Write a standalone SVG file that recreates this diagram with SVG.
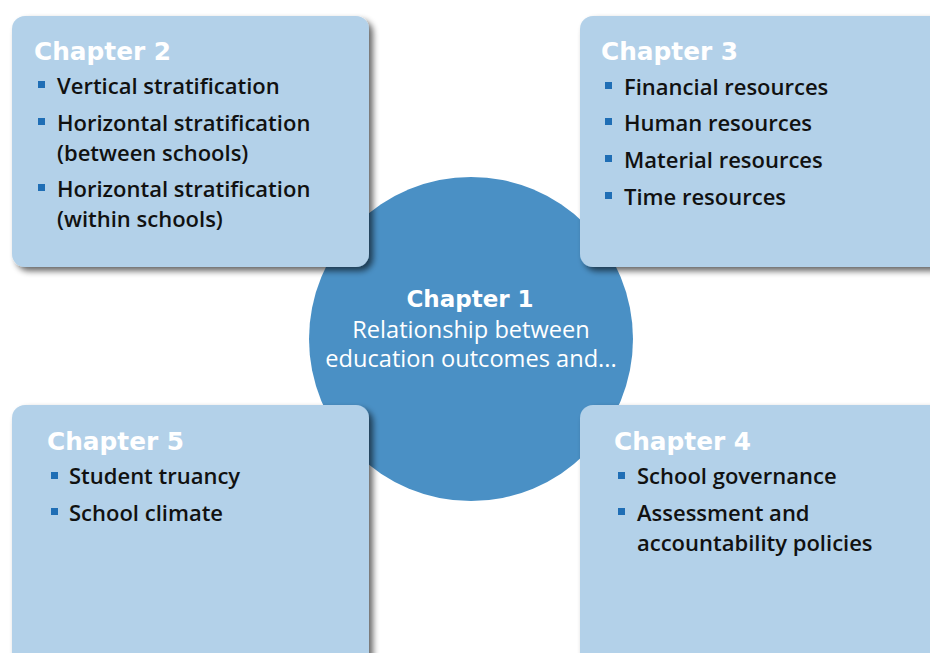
<svg xmlns="http://www.w3.org/2000/svg" width="930" height="653" viewBox="0 0 930 653">
<defs>
<filter id="sh" x="-10%" y="-10%" width="125%" height="125%">
<feGaussianBlur in="SourceAlpha" stdDeviation="3"/>
<feOffset dx="4" dy="4" result="b"/>
<feComponentTransfer><feFuncA type="linear" slope="0.6"/></feComponentTransfer>
<feMerge><feMergeNode/><feMergeNode in="SourceGraphic"/></feMerge>
</filter>
<style>
.box{fill:#b3d1e9;filter:url(#sh)}
.ttl{font-family:"DejaVu Sans",Verdana,sans-serif;font-weight:bold;font-size:24.8px;fill:#ffffff}
.it{font-family:"Open Sans",Lato,sans-serif;font-weight:600;font-size:22px;fill:#111111}
.bl{fill:#1f6eb5}
.ct{font-family:"Open Sans",Lato,sans-serif;font-weight:500;font-size:23.6px;fill:#ffffff;text-anchor:middle}
</style>
</defs>
<rect width="930" height="653" fill="#ffffff"/>
<g id="chapter1">
<circle cx="471" cy="339" r="162" fill="#4a90c5"/>
<text class="ct" x="470" y="307" style="font-family:'DejaVu Sans',Verdana,sans-serif;font-weight:bold;font-size:23px">Chapter 1</text>
<text class="ct" x="471" y="338">Relationship between</text>
<text class="ct" x="471" y="367">education outcomes and...</text>
</g>
<g id="connectors"/>
<g id="chapter2">
<rect class="box" x="12" y="16" width="357" height="251" rx="13"/>
<text class="ttl" x="34" y="60">Chapter 2</text>
<rect class="bl" x="38" y="81" width="7" height="7"/>
<text class="it" x="57" y="94">Vertical stratification</text>
<rect class="bl" x="38" y="118" width="7" height="7"/>
<text class="it" x="57" y="131">Horizontal stratification</text>
<text class="it" x="57" y="161">(between schools)</text>
<rect class="bl" x="38" y="184" width="7" height="7"/>
<text class="it" x="57" y="197">Horizontal stratification</text>
<text class="it" x="57" y="227">(within schools)</text>
</g>
<g id="chapter3">
<rect class="box" x="580" y="16" width="370" height="251" rx="13"/>
<text class="ttl" x="601" y="60">Chapter 3</text>
<rect class="bl" x="605" y="82" width="7" height="7"/>
<text class="it" x="624" y="95">Financial resources</text>
<rect class="bl" x="605" y="118" width="7" height="7"/>
<text class="it" x="624" y="131">Human resources</text>
<rect class="bl" x="605" y="155" width="7" height="7"/>
<text class="it" x="624" y="168">Material resources</text>
<rect class="bl" x="605" y="192" width="7" height="7"/>
<text class="it" x="624" y="205">Time resources</text>
</g>
<g id="chapter5">
<rect class="box" x="12" y="405" width="357" height="270" rx="13"/>
<text class="ttl" x="47" y="450">Chapter 5</text>
<rect class="bl" x="51" y="472" width="7" height="7"/>
<text class="it" x="69" y="484">Student truancy</text>
<rect class="bl" x="51" y="508" width="7" height="7"/>
<text class="it" x="69" y="521">School climate</text>
</g>
<g id="chapter4">
<rect class="box" x="580" y="405" width="370" height="270" rx="13"/>
<text class="ttl" x="614" y="450">Chapter 4</text>
<rect class="bl" x="618" y="472" width="7" height="7"/>
<text class="it" x="637" y="484">School governance</text>
<rect class="bl" x="618" y="508" width="7" height="7"/>
<text class="it" x="637" y="521">Assessment and</text>
<text class="it" x="637" y="551">accountability policies</text>
</g>
</svg>
